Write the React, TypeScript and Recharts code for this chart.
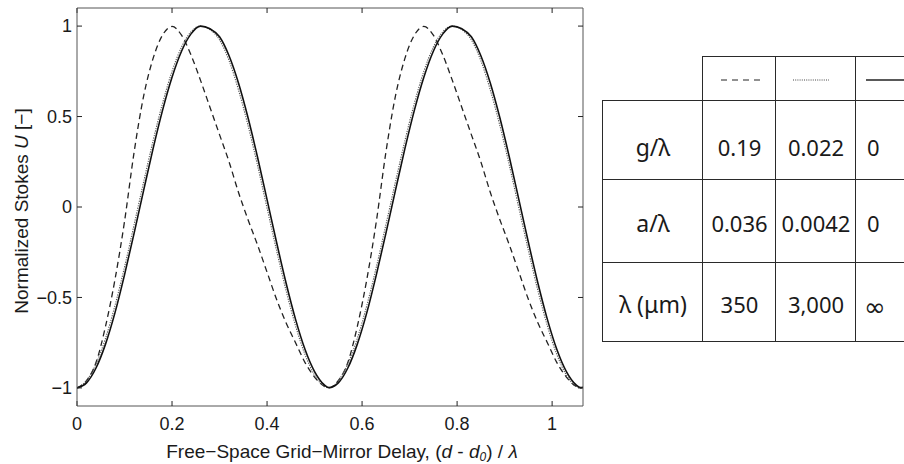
import React from 'react';
import { LineChart, Line, XAxis, YAxis } from 'recharts';

// delay (d - d0)/lambda
const xs = [
  0, 0.02, 0.04, 0.06, 0.08, 0.1, 0.12, 0.14, 0.16, 0.18, 0.2, 0.22, 0.24, 0.26,
  0.28, 0.3, 0.32, 0.34, 0.36, 0.38, 0.4, 0.42, 0.44, 0.46, 0.48, 0.5, 0.52, 0.53,
  0.55, 0.57, 0.59, 0.61, 0.63, 0.65, 0.67, 0.69, 0.71, 0.73, 0.75, 0.77, 0.79, 0.81,
  0.83, 0.85, 0.87, 0.89, 0.91, 0.93, 0.95, 0.97, 0.99, 1.01, 1.03, 1.05, 1.06, 1.065,
];

// lambda = 350 um (dashed)
const dashedU = [
  -1, -0.96, -0.86, -0.66, -0.4, -0.08, 0.3, 0.61, 0.82, 0.95, 0.998, 0.95, 0.84, 0.7,
  0.55, 0.4, 0.25, 0.08, -0.07, -0.21, -0.36, -0.51, -0.64, -0.75, -0.86, -0.94, -0.99, -1,
  -0.96, -0.86, -0.66, -0.4, -0.08, 0.3, 0.61, 0.82, 0.95, 0.998, 0.95, 0.84, 0.7, 0.55,
  0.4, 0.25, 0.08, -0.07, -0.21, -0.36, -0.51, -0.64, -0.75, -0.86, -0.94, -0.99, -1, -0.997,
];

// lambda = 3,000 um (dotted)
const dottedU = [
  -0.999, -0.96, -0.867, -0.726, -0.544, -0.332, -0.1, 0.136, 0.365, 0.573, 0.75, 0.884, 0.969, 1,
  0.98, 0.924, 0.809, 0.646, 0.45, 0.23, -0.006, -0.24, -0.462, -0.657, -0.816, -0.929, -0.99, -1,
  -0.96, -0.867, -0.726, -0.544, -0.332, -0.1, 0.136, 0.365, 0.573, 0.75, 0.884, 0.969, 1, 0.98,
  0.924, 0.809, 0.646, 0.45, 0.23, -0.006, -0.24, -0.462, -0.657, -0.816, -0.929, -0.99, -1, -0.997,
];

// lambda = infinity (solid)
const solidU = [
  -1, -0.972, -0.89, -0.758, -0.584, -0.375, -0.147, 0.089, 0.321, 0.534, 0.717, 0.861, 0.957, 1,
  0.985, 0.941, 0.836, 0.684, 0.493, 0.275, 0.041, -0.195, -0.42, -0.621, -0.788, -0.91, -0.982, -0.998,
  -0.972, -0.89, -0.758, -0.584, -0.375, -0.147, 0.089, 0.321, 0.534, 0.717, 0.861, 0.957, 1, 0.985,
  0.941, 0.836, 0.684, 0.493, 0.275, 0.041, -0.195, -0.42, -0.621, -0.788, -0.91, -0.982, -0.998, -0.996,
];

const xTicks = [0, 0.2, 0.4, 0.6, 0.8, 1];
const yTicks = [-1, -0.5, 0, 0.5, 1];
const xDomain = [0, 1.065];
const yDomain = [-1.1, 1.1];

const rowLabels = ['g/λ', 'a/λ', 'λ (μm)'];
const colDashed = ['0.19', '0.036', '350'];
const colDotted = ['0.022', '0.0042', '3,000'];
const colSolid = ['0', '0', '∞'];

const data = xs.map((x, i) => ({ x, dashed: dashedU[i], dotted: dottedU[i], solid: solidU[i] }));

const FONT = '"Liberation Sans", Arial, Helvetica, sans-serif';
const TFONT = '"Noto Sans", "Open Sans", sans-serif';
const INK = '#1a1a1a';

const fmt = (v: number) => String(v).replace('-', '−');
const Empty = () => <g />;

const XLabel = (props: any) => {
  const vb = props.viewBox || { x: 77, y: 406, width: 506, height: 30 };
  const cx = vb.x + vb.width / 2 + 12;
  return (
    <text x={cx} y={458} textAnchor="middle" fontFamily={FONT} fontSize={19} fill={INK}>
      Free−Space Grid−Mirror Delay, (<tspan fontStyle="italic">d</tspan> - <tspan fontStyle="italic">d</tspan>
      <tspan fontStyle="italic" fontSize={12} dy={3}>0</tspan>
      <tspan dy={-3}>) / </tspan>
      <tspan fontStyle="italic">λ</tspan>
    </text>
  );
};

const YLabel = () => (
  <text transform="translate(28,211) rotate(-90)" x={0} y={0} textAnchor="middle" fontFamily={FONT} fontSize={19} fill={INK}>
    Normalized Stokes <tspan fontStyle="italic">U</tspan> [−]
  </text>
);

const colEdges = [602, 702, 775, 855, 935];
const rowEdges = [56, 100, 179, 262, 341];
const BORDER = '1px solid #2a2a2a';

function Table() {
  const cells: React.ReactNode[] = [];
  const cols = [rowLabels, colDashed, colDotted, colSolid];
  for (let r = 0; r < 4; r++) {
    for (let c = 0; c < 4; c++) {
      if (r === 0 && c === 0) continue;
      const left = colEdges[c];
      const top = rowEdges[r];
      const w = colEdges[c + 1] - left;
      const h = rowEdges[r + 1] - top;
      let content: React.ReactNode = null;
      if (r === 0) {
        const dash = c === 1 ? '6 5' : c === 2 ? '1 1.2' : undefined;
        const x1 = c === 1 ? 18 : c === 2 ? 17 : 10;
        const x2 = c === 1 ? 58 : c === 2 ? 53 : 80;
        content = (
          <svg width={w} height={h} style={{ position: 'absolute', left: 0, top: 0 }}>
            <line x1={x1} x2={x2} y1={23} y2={23} stroke={c === 2 ? '#444' : '#222'} strokeWidth={c === 3 ? 1.3 : 1} strokeDasharray={dash} />
          </svg>
        );
      } else {
        const txt = cols[c][r - 1];
        const isInf = txt === '∞';
        content = (
          <div
            style={{
              position: 'absolute', left: 0, top: r === 1 ? 6 : isInf ? 4 : 1, width: w, height: h,
              display: 'flex', alignItems: 'center',
              justifyContent: c === 3 ? 'flex-start' : 'center',
              paddingLeft: c === 3 ? (isInf ? 8 : 11) : 0, boxSizing: 'border-box',
              fontFamily: isInf ? '"DejaVu Sans", sans-serif' : TFONT,
              fontSize: isInf ? 26 : c === 0 ? 23 : 22, color: INK, whiteSpace: 'nowrap',
            }}
          >
            {txt}
          </div>
        );
      }
      cells.push(
        <div
          key={`${r}-${c}`}
          style={{
            position: 'absolute', left, top, width: w, height: r === 3 ? h + 1 : h, boxSizing: 'border-box',
            borderLeft: BORDER, borderTop: BORDER, borderBottom: r === 3 ? BORDER : undefined,
          }}
        >
          {content}
        </div>
      );
    }
  }
  return <>{cells}</>;
}

export default function App() {
  return (
    <div style={{ position: 'absolute', left: 0, top: 0, width: 904, height: 464, overflow: 'hidden', background: '#fff' }}>
      <LineChart width={904} height={464} data={data} margin={{ top: 7, right: 320, bottom: 28, left: 17 }}>
        <XAxis
          dataKey="x" type="number" domain={xDomain} ticks={xTicks} allowDataOverflow
          tickSize={-5} tickMargin={16} height={30}
          stroke="#555" tickLine={{ stroke: '#222' }}
          tick={{ fontFamily: FONT, fontSize: 18, fill: INK }}
          tickFormatter={fmt}
          label={<XLabel />}
        />
        <XAxis
          xAxisId="top" orientation="top" dataKey="x" type="number" domain={xDomain} ticks={xTicks} allowDataOverflow
          tickSize={-5} height={1} stroke="#555" tickLine={{ stroke: '#222' }} tick={<Empty />}
        />
        <YAxis
          type="number" domain={yDomain} ticks={yTicks} allowDataOverflow
          tickSize={-5} tickMargin={10} width={60}
          stroke="#555" tickLine={{ stroke: '#222' }}
          tick={{ fontFamily: FONT, fontSize: 18, fill: INK }}
          tickFormatter={fmt}
          label={<YLabel />}
        />
        <YAxis
          yAxisId="right" orientation="right" type="number" domain={yDomain} ticks={yTicks} allowDataOverflow
          tickSize={-5} width={1} stroke="#555" tickLine={{ stroke: '#222' }} tick={<Empty />}
        />
        <Line dataKey="dashed" type="monotone" stroke="#222" strokeWidth={1.3} strokeDasharray="6 4" dot={false} isAnimationActive={false} />
        <Line dataKey="dotted" type="monotone" stroke="#555" strokeWidth={1.1} strokeDasharray="1.2 1.2" dot={false} isAnimationActive={false} />
        <Line dataKey="solid" type="monotone" stroke="#111" strokeWidth={1.6} dot={false} isAnimationActive={false} />
      </LineChart>
      <Table />
    </div>
  );
}
